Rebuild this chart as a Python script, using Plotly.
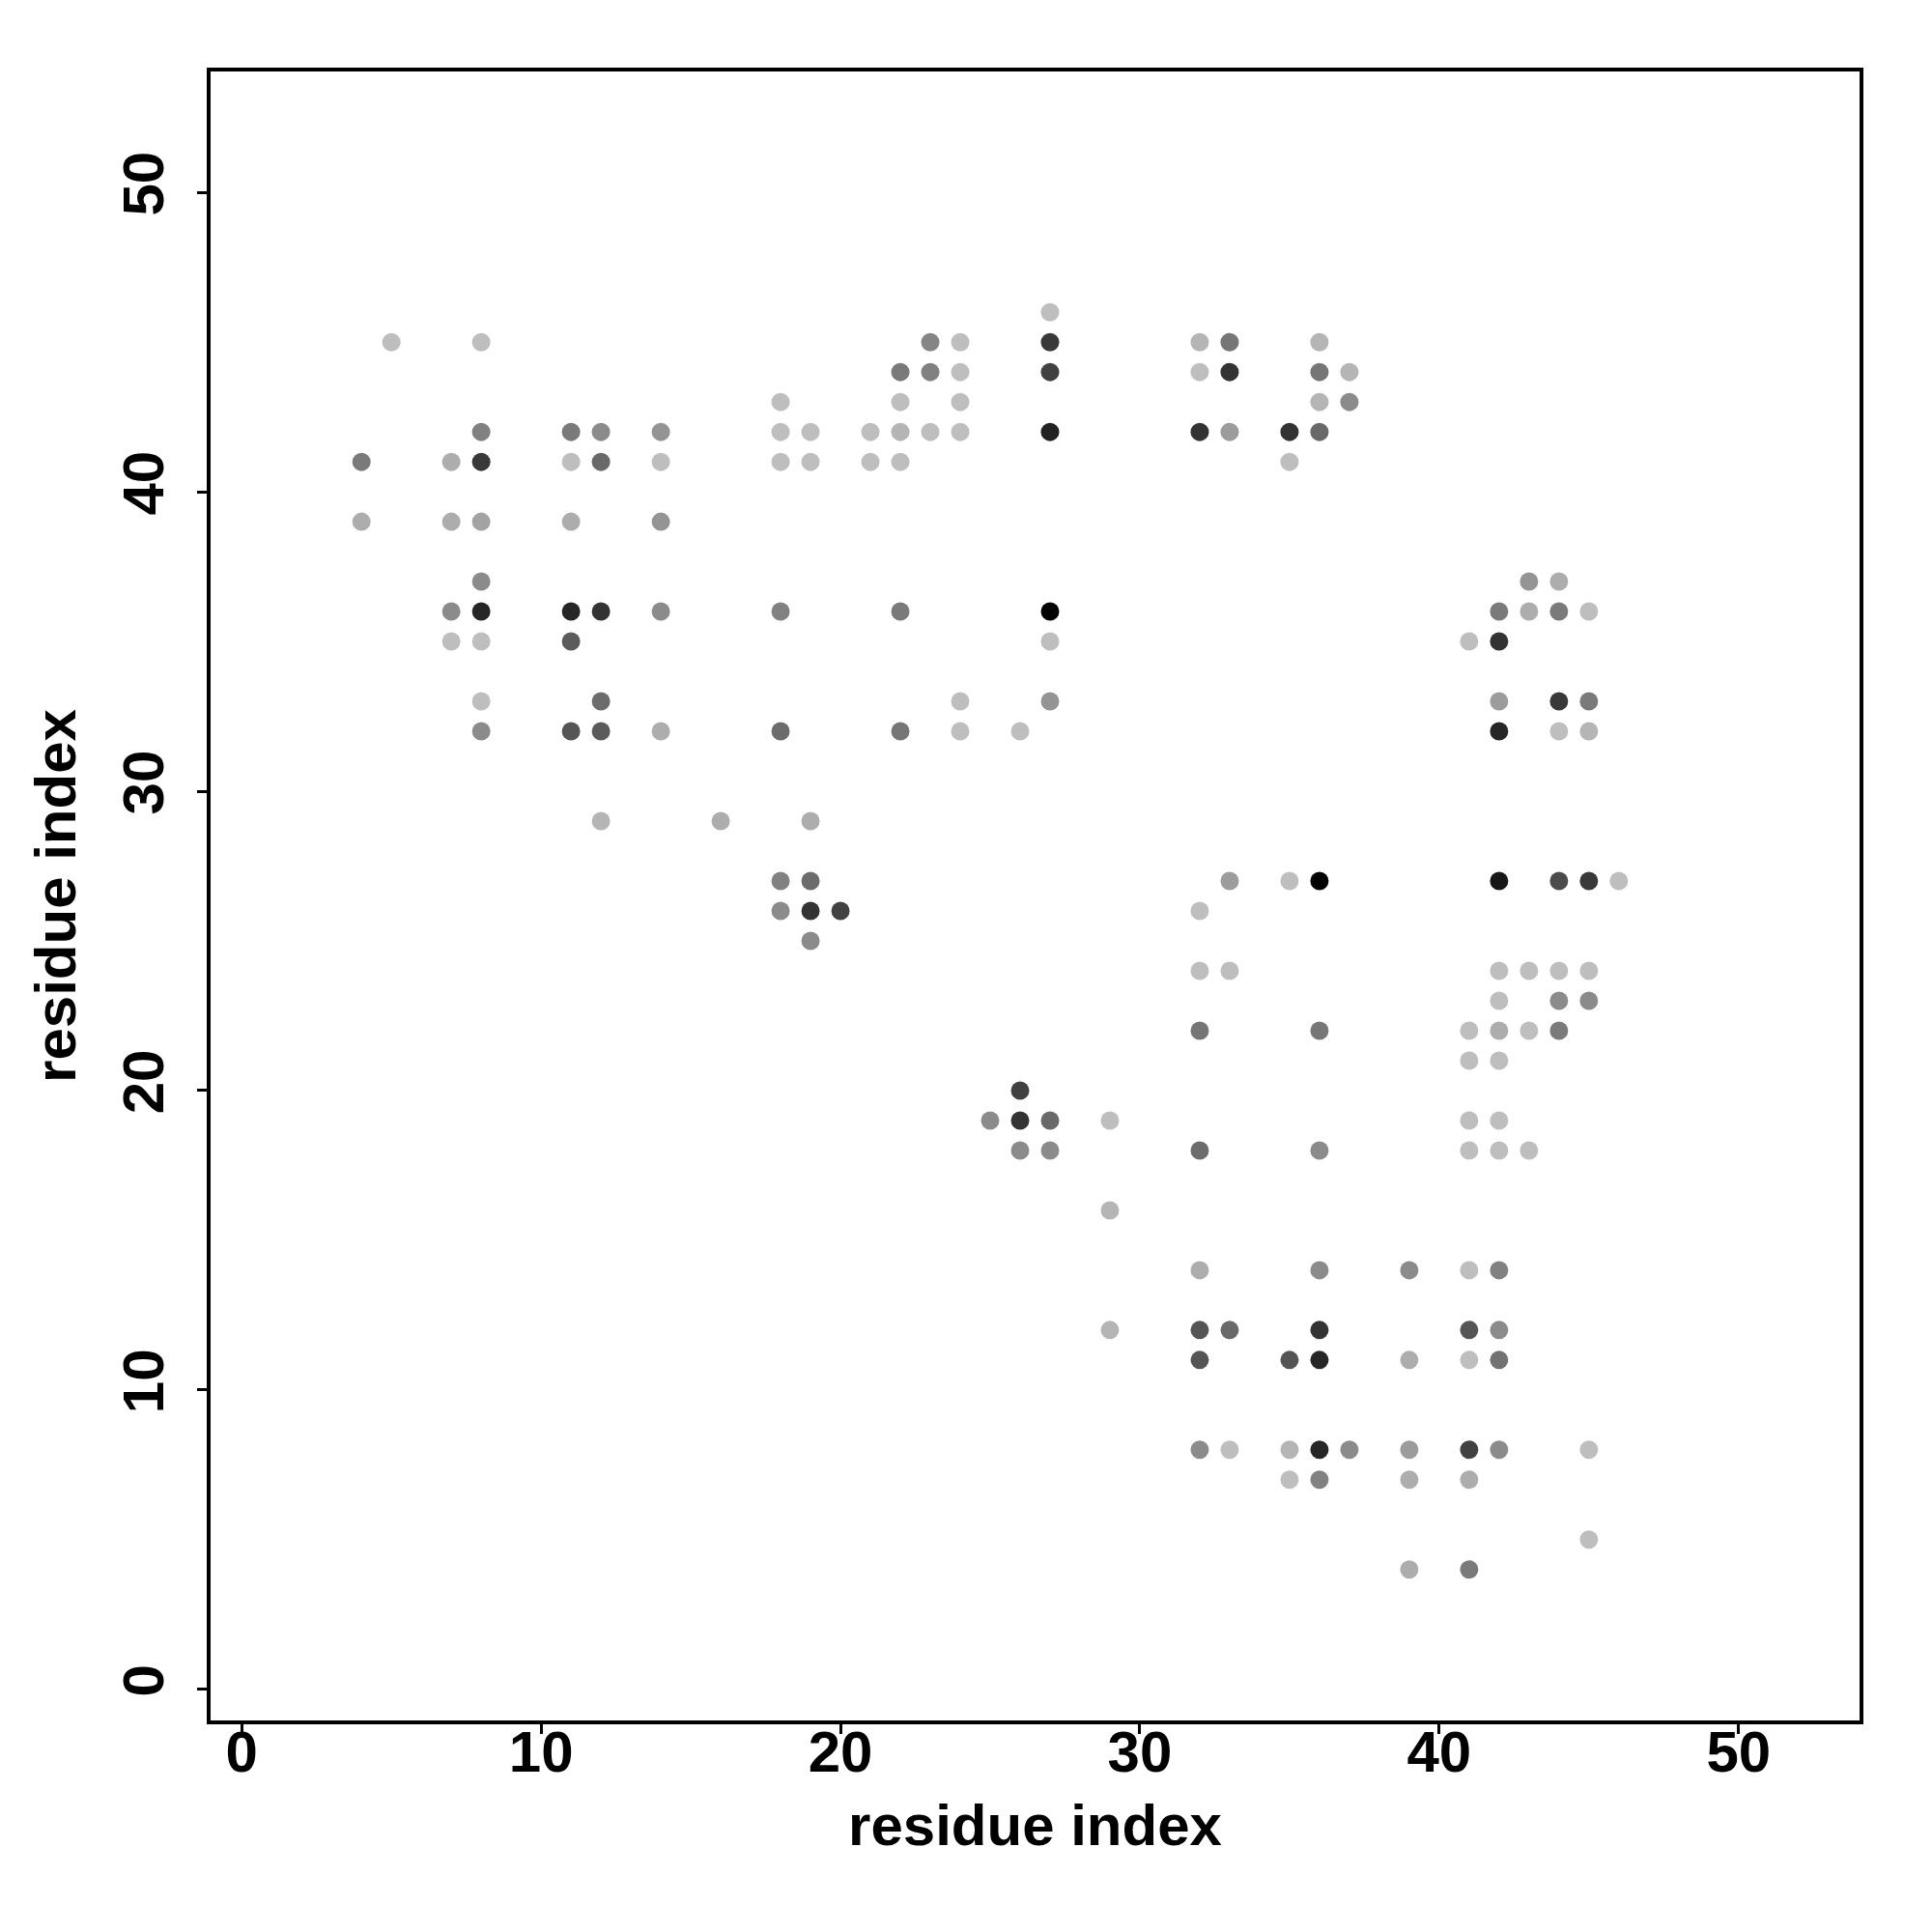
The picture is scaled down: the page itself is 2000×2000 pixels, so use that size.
import plotly.graph_objects as go

# contact map: residue i (x), residue j (y), contact strength (0 = faint, 1 = strongest)
res_i = []
res_j = []
strength = []

columns = {
    4:  [(41, 0.36), (39, 0.09)],
    5:  [(45, 0.0)],
    7:  [(41, 0.09), (39, 0.09), (36, 0.27), (35, 0.0)],
    8:  [(45, 0.0), (42, 0.32), (41, 0.70), (39, 0.14), (37, 0.27), (36, 0.80), (35, 0.0), (33, 0.0), (32, 0.27)],
    11: [(42, 0.36), (41, 0.0), (39, 0.09), (36, 0.80), (35, 0.52), (32, 0.55)],
    12: [(42, 0.27), (41, 0.45), (36, 0.73), (33, 0.43), (32, 0.52), (29, 0.05)],
    14: [(42, 0.22), (41, 0.0), (39, 0.22), (36, 0.27), (32, 0.09)],
    16: [(29, 0.09)],
    18: [(43, 0.0), (42, 0.0), (41, 0.0), (36, 0.32), (32, 0.43), (27, 0.32), (26, 0.27)],
    19: [(42, 0.0), (41, 0.0), (29, 0.09), (27, 0.43), (26, 0.73), (25, 0.27)],
    20: [(26, 0.66)],
    21: [(42, 0.0), (41, 0.0)],
    22: [(44, 0.36), (43, 0.0), (42, 0.05), (41, 0.0), (36, 0.36), (32, 0.38)],
    23: [(45, 0.30), (44, 0.32), (42, 0.0)],
    24: [(45, 0.0), (44, 0.0), (43, 0.0), (42, 0.0), (33, 0.0), (32, 0.0)],
    25: [(19, 0.27)],
    26: [(32, 0.0), (20, 0.66), (19, 0.73), (18, 0.27)],
    27: [(46, 0.0), (45, 0.70), (44, 0.66), (42, 0.82), (36, 1.0), (35, 0.0), (33, 0.22), (19, 0.45), (18, 0.27)],
    29: [(19, 0.0), (16, 0.05), (12, 0.05)],
    32: [(45, 0.05), (44, 0.0), (42, 0.73), (26, 0.0), (24, 0.0), (22, 0.38), (18, 0.43), (14, 0.09), (12, 0.55), (11, 0.55), (8, 0.27)],
    33: [(45, 0.38), (44, 0.73), (42, 0.18), (27, 0.18), (24, 0.0), (12, 0.45), (8, 0.0)],
    35: [(42, 0.73), (41, 0.0), (27, 0.0), (11, 0.55), (8, 0.05), (7, 0.0)],
    36: [(45, 0.05), (44, 0.38), (43, 0.05), (42, 0.45), (27, 1.0), (22, 0.38), (18, 0.27), (14, 0.27), (12, 0.73), (11, 0.80), (8, 0.80), (7, 0.32)],
    37: [(44, 0.05), (43, 0.27), (8, 0.27)],
    39: [(14, 0.27), (11, 0.09), (8, 0.18), (7, 0.09), (4, 0.09)],
    41: [(35, 0.0), (22, 0.0), (21, 0.0), (19, 0.0), (18, 0.0), (14, 0.0), (12, 0.55), (11, 0.0), (8, 0.66), (7, 0.09), (4, 0.36)],
    42: [(36, 0.36), (35, 0.73), (33, 0.18), (32, 0.80), (27, 0.88), (24, 0.0), (23, 0.0), (22, 0.09), (21, 0.0), (19, 0.0), (18, 0.0), (14, 0.32), (12, 0.27), (11, 0.40), (8, 0.27)],
    43: [(37, 0.22), (36, 0.09), (24, 0.0), (22, 0.0), (18, 0.0)],
    44: [(37, 0.09), (36, 0.36), (33, 0.70), (32, 0.0), (27, 0.60), (24, 0.0), (23, 0.27), (22, 0.36)],
    45: [(36, 0.0), (33, 0.36), (32, 0.05), (27, 0.70), (24, 0.0), (23, 0.27), (8, 0.0), (5, 0.0)],
    46: [(27, 0.0)],
}
for xi, pts in columns.items():
    for yj, s in pts:
        res_i.append(xi)
        res_j.append(yj)
        strength.append(s)

tick_vals = [0, 10, 20, 30, 40, 50]
axis_range = [-1.04, 54.04]

font_main = dict(family="Liberation Sans, Arial, sans-serif", size=60, color="black", weight="bold")

fig = go.Figure(go.Scatter(
    x=res_i, y=res_j, mode="markers",
    marker=dict(
        size=19,
        color=strength,
        cmin=0, cmax=1,
        colorscale=[[0, "rgb(190,190,190)"], [1, "rgb(0,0,0)"]],
        line=dict(width=0),
        showscale=False,
    ),
    hoverinfo="x+y",
))

axis_common = dict(
    range=axis_range,
    tickvals=tick_vals,
    showgrid=False,
    zeroline=False,
    showline=True,
    linecolor="black",
    linewidth=4,
    mirror=True,
    ticks="outside",
    ticklen=10,
    tickwidth=3,
    tickcolor="black",
    tickfont=font_main,
)

fig.update_layout(
    width=1992, height=1992,
    paper_bgcolor="white", plot_bgcolor="white",
    margin=dict(l=210, r=75, t=66, b=219),
    showlegend=False,
    xaxis=dict(**axis_common, ticklabelstandoff=-33,
               title=dict(text="residue index", font=font_main, standoff=23)),
    yaxis=dict(**axis_common, tickangle=-90, ticklabelstandoff=11,
               title=dict(text="residue index", font=font_main, standoff=18)),
)

fig.write_html("out.html")
